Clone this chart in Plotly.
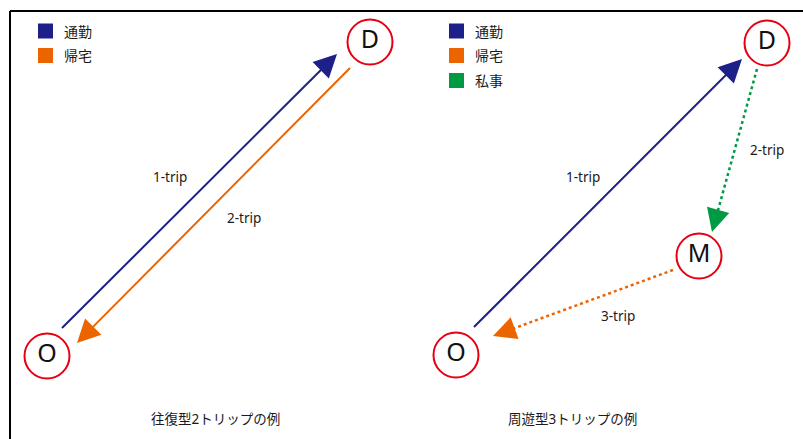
import math
import plotly.graph_objects as go

# ---- data ----
node_labels = ["O", "D", "O", "D", "M"]
node_x = [47, 370, 456, 767, 699]
node_y = [356, 42, 355, 43, 256]

trip_labels = ["1-trip", "2-trip", "1-trip", "2-trip", "3-trip"]
trip_kind = ["通勤", "帰宅", "通勤", "私事", "帰宅"]
trip_x0 = [62, 350, 474, 757, 673]
trip_y0 = [328, 68, 327, 69, 270]
trip_x1 = [337, 77, 742, 712, 493]
trip_y1 = [54, 343, 59, 232, 336]
trip_dash = ["solid", "solid", "solid", "dot", "dot"]
label_x = [170, 244, 583, 767, 618]
label_y = [177, 218, 177, 150, 316]

legend_left = ["通勤", "帰宅"]
legend_right = ["通勤", "帰宅", "私事"]
legend_left_x = 45.5
legend_right_x = 456.5
legend_y = [31, 55.5, 80.5]

captions = ["往復型2トリップの例", "周遊型3トリップの例"]
caption_x = [215, 572]
caption_y = 419

colors = {"通勤": "#1d2088", "帰宅": "#ec6400", "私事": "#009944"}
RED = "#e60012"
FONT = "Noto Sans, Noto Sans CJK JP, sans-serif"

fig = go.Figure()

# trip lines
annotations = []
for i in range(len(trip_labels)):
    c = colors[trip_kind[i]]
    dx = trip_x1[i] - trip_x0[i]
    dy = trip_y1[i] - trip_y0[i]
    L = math.hypot(dx, dy)
    ux, uy = dx / L, dy / L
    back = 16
    ex, ey = trip_x1[i] - ux * back, trip_y1[i] - uy * back
    fig.add_trace(go.Scatter(x=[trip_x0[i], ex], y=[trip_y0[i], ey], mode="lines",
                             line=dict(color=c, width=2 if trip_dash[i] == "solid" else 2.5,
                                       dash=trip_dash[i]),
                             hoverinfo="skip", showlegend=False))
    tail = 22
    annotations.append(dict(x=trip_x1[i], y=trip_y1[i], ax=trip_x1[i] - ux * tail,
                            ay=trip_y1[i] - uy * tail, xref="x", yref="y", axref="x", ayref="y",
                            text="", showarrow=True, arrowhead=2, arrowsize=2.3, arrowwidth=2,
                            arrowcolor=c, standoff=0, startstandoff=0))
    annotations.append(dict(x=label_x[i], y=label_y[i], xref="x", yref="y", text=trip_labels[i],
                            showarrow=False, font=dict(family=FONT, size=13.5, color="#1a1a1a")))

# nodes
fig.add_trace(go.Scatter(x=node_x, y=node_y, mode="markers+text", text=node_labels,
                         textposition="middle center",
                         textfont=dict(family=FONT, size=25, color="#111111"),
                         marker=dict(symbol="circle", size=45, color="white",
                                     line=dict(color=RED, width=2)),
                         hoverinfo="skip", showlegend=False))

# legends
for names, lx in ((legend_left, legend_left_x), (legend_right, legend_right_x)):
    for j, n in enumerate(names):
        fig.add_trace(go.Scatter(x=[lx], y=[legend_y[j]], mode="markers",
                                 marker=dict(symbol="square", size=15, color=colors[n],
                                             line=dict(width=0)),
                                 hoverinfo="skip", showlegend=False))
        annotations.append(dict(x=lx + 16, y=legend_y[j], xref="x", yref="y", text=n,
                                xanchor="left", showarrow=False,
                                font=dict(family=FONT, size=14, color="#1a1a1a")))

for t, cx in zip(captions, caption_x):
    annotations.append(dict(x=cx, y=caption_y, xref="x", yref="y", text=t, showarrow=False,
                            font=dict(family=FONT, size=13.5, color="#1a1a1a")))

shapes = [dict(type="line", xref="x", yref="y", x0=10, y0=439, x1=10, y1=11,
               line=dict(color="black", width=2)),
          dict(type="line", xref="x", yref="y", x0=10, y0=11, x1=803, y1=11,
               line=dict(color="black", width=2))]

fig.update_layout(width=803, height=439, margin=dict(l=0, r=0, t=0, b=0),
                  paper_bgcolor="white", plot_bgcolor="white",
                  xaxis=dict(range=[0, 803], visible=False, fixedrange=True),
                  yaxis=dict(range=[439, 0], visible=False, fixedrange=True),
                  annotations=annotations, shapes=shapes, showlegend=False)

fig.write_html("out.html", config={"displayModeBar": False},
               post_script="document.body.style.margin='0';document.body.style.overflow='hidden';")
